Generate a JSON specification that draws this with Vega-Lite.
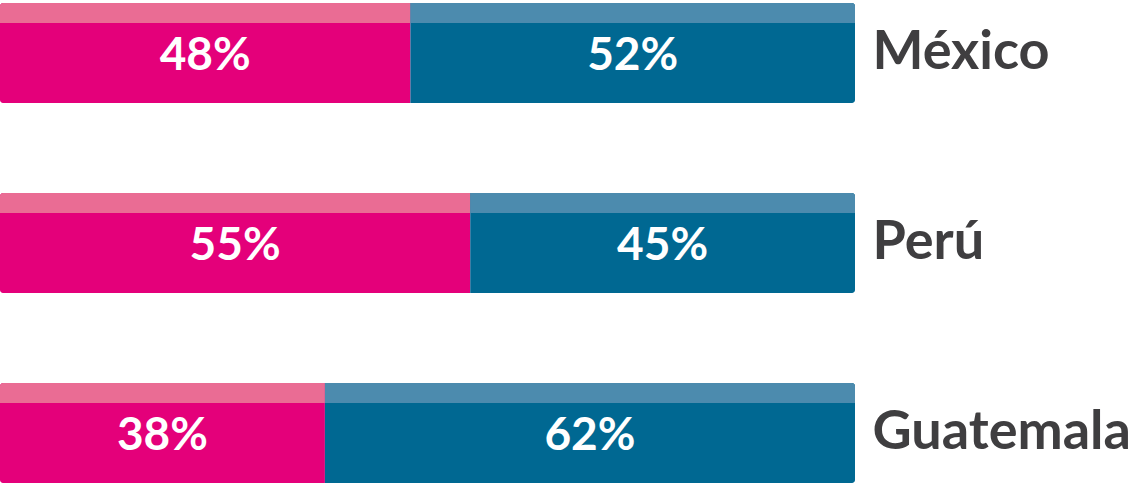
{
  "$schema": "https://vega.github.io/schema/vega-lite/v6.json",
  "autosize": "none",
  "padding": {"left": 0, "top": 3, "right": 281, "bottom": 1},
  "width": 855,
  "height": 480,
  "config": {"view": {"stroke": null}, "font": "Lato"},
  "data": {
    "values": [
      {"country": "México", "serie": "1", "order": 1, "value": 0.48},
      {"country": "México", "serie": "2", "order": 2, "value": 0.52},
      {"country": "Perú", "serie": "1", "order": 1, "value": 0.55},
      {"country": "Perú", "serie": "2", "order": 2, "value": 0.45},
      {"country": "Guatemala", "serie": "1", "order": 1, "value": 0.38},
      {"country": "Guatemala", "serie": "2", "order": 2, "value": 0.62}
    ]
  },
  "encoding": {
    "y": {
      "field": "country",
      "type": "nominal",
      "sort": ["México", "Perú", "Guatemala"],
      "scale": {"paddingInner": 0.4737, "paddingOuter": 0},
      "axis": {
        "orient": "right",
        "title": null,
        "domain": false,
        "ticks": false,
        "labelPadding": 17,
        "labelFontSize": 54,
        "labelLimit": 0,
        "labelFont": "Lato",
        "labelFontWeight": "bold",
        "labelColor": "#3f3e40"
      }
    },
    "x": {
      "field": "value",
      "type": "quantitative",
      "stack": "zero",
      "scale": {"domain": [0, 1], "nice": false},
      "axis": null
    },
    "order": {"field": "order"},
    "detail": {"field": "serie"}
  },
  "layer": [
    {
      "mark": {"type": "bar", "cornerRadius": 3},
      "encoding": {
        "color": {
          "field": "serie",
          "type": "nominal",
          "scale": {"domain": ["1", "2"], "range": ["#E4007A", "#006892"]},
          "legend": null
        }
      }
    },
    {
      "mark": {"type": "bar", "height": 20, "yOffset": -40, "cornerRadiusTopRight": 3, "cornerRadiusTopLeft": 3},
      "encoding": {
        "color": {
          "field": "serie",
          "type": "nominal",
          "scale": {"domain": ["1", "2"], "range": ["#EA6C94", "#4C8BAE"]},
          "legend": null
        }
      }
    },
    {
      "mark": {"type": "text", "fontSize": 46, "fontWeight": "bold", "font": "Lato", "baseline": "middle", "dy": 3},
      "encoding": {
        "x": {"field": "value", "type": "quantitative", "stack": "zero", "bandPosition": 0.5},
        "text": {"field": "value", "type": "quantitative", "format": ".0%"},
        "color": {"value": "white"}
      }
    }
  ],
  "resolve": {"scale": {"color": "independent"}}
}
